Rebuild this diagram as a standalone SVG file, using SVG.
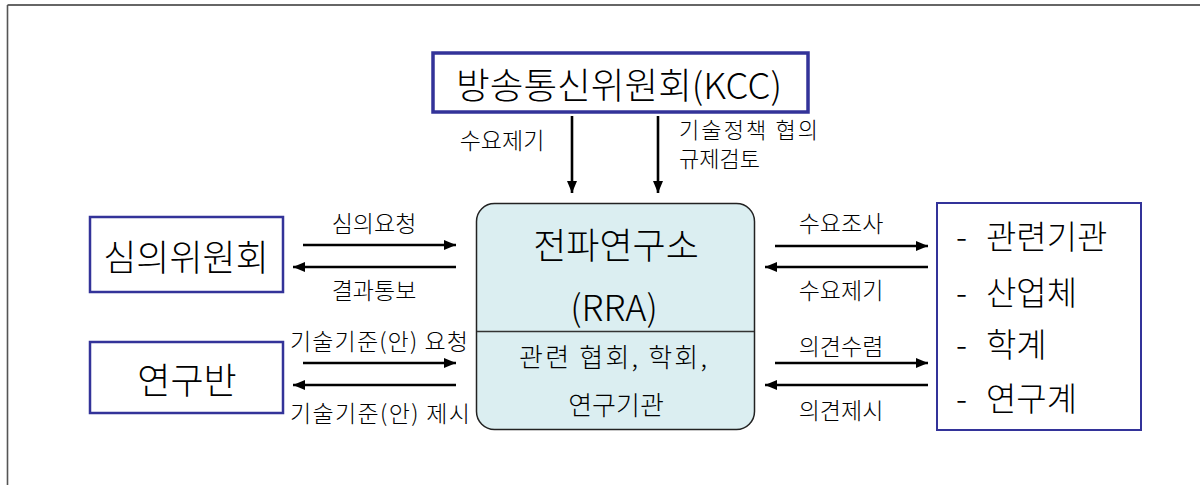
<svg xmlns="http://www.w3.org/2000/svg" width="1200" height="485" viewBox="0 0 1200 485">
<defs>
<marker id="ah" viewBox="0 0 12 10" refX="12" refY="5" markerWidth="12" markerHeight="10" markerUnits="userSpaceOnUse" orient="auto">
<path d="M0,0 L12,5 L0,10 Z" fill="#000"/>
</marker>
</defs>
<style>
text{font-family:"Noto Sans CJK KR","Noto Sans",sans-serif;fill:#000;font-weight:300}
.big{font-size:36px}
.rt{font-size:33px}
.lbl{font-size:23px}
.sm{font-size:22px}
.mid{font-size:26px}
.box{fill:#fff;stroke:#333399}
.conn line{stroke:#000;stroke-width:2.6;marker-end:url(#ah)}
</style>
<rect width="1200" height="485" fill="#fff"/>
<g id="frame">
<line x1="7.5" y1="5" x2="1200" y2="5" stroke="#333" stroke-width="1.6"/>
<line x1="7.5" y1="5" x2="7.5" y2="485" stroke="#555" stroke-width="1.6"/>
</g>
<g id="kcc">
<rect class="box" x="433" y="53" width="375" height="59" stroke-width="3.5"/>
<text class="big" x="619" y="99" text-anchor="middle" textLength="326" lengthAdjust="spacingAndGlyphs">방송통신위원회(KCC)</text>
</g>
<g id="rra">
<rect x="476.5" y="203.5" width="278" height="226" rx="18" fill="#DBEEF1" stroke="#222" stroke-width="1.5"/>
<line x1="477" y1="331.5" x2="754" y2="331.5" stroke="#333" stroke-width="1.3"/>
<text class="big" x="616" y="259" text-anchor="middle">전파연구소</text>
<text class="big" x="614" y="321" text-anchor="middle">(RRA)</text>
<text class="mid" x="613" y="367" text-anchor="middle" textLength="188" lengthAdjust="spacing">관련 협회, 학회,</text>
<text class="mid" x="616" y="415" text-anchor="middle">연구기관</text>
</g>
<g id="simui">
<rect class="box" x="90" y="217" width="193" height="75" stroke-width="2.5"/>
<text class="big" x="186" y="271" text-anchor="middle">심의위원회</text>
</g>
<g id="yeongu">
<rect class="box" x="90" y="342" width="193" height="71" stroke-width="2.5"/>
<text class="big" x="187" y="394" text-anchor="middle">연구반</text>
</g>
<g id="orgs">
<rect class="box" x="937" y="203" width="204" height="227" stroke-width="2"/>
<text class="rt" y="249"><tspan x="956">-</tspan><tspan x="986">관련기관</tspan></text>
<text class="rt" y="305"><tspan x="956">-</tspan><tspan x="986">산업체</tspan></text>
<text class="rt" y="357"><tspan x="956">-</tspan><tspan x="986">학계</tspan></text>
<text class="rt" y="411"><tspan x="956">-</tspan><tspan x="986">연구계</tspan></text>
</g>
<g class="conn" id="connectors">
<line x1="572" y1="116" x2="572" y2="193"/>
<line x1="658" y1="116" x2="658" y2="193"/>
<line x1="303" y1="245" x2="456" y2="245"/>
<line x1="456" y1="267" x2="293" y2="267"/>
<line x1="303" y1="363" x2="456" y2="363"/>
<line x1="456" y1="385" x2="293" y2="385"/>
<line x1="775" y1="246" x2="928" y2="246"/>
<line x1="928" y1="267" x2="765" y2="267"/>
<line x1="775" y1="363" x2="928" y2="363"/>
<line x1="928" y1="385" x2="765" y2="385"/>
</g>
<g id="labels">
<text class="lbl" x="502" y="149" text-anchor="middle">수요제기</text>
<text class="sm" x="679" y="138" textLength="139" lengthAdjust="spacing">기술정책 협의</text>
<text class="sm" x="679" y="167">규제검토</text>
<text class="lbl" x="374" y="232" text-anchor="middle">심의요청</text>
<text class="lbl" x="374" y="299" text-anchor="middle">결과통보</text>
<text class="lbl" x="290" y="350" textLength="178" lengthAdjust="spacing">기술기준(안) 요청</text>
<text class="lbl" x="290" y="422" textLength="180" lengthAdjust="spacing">기술기준(안) 제시</text>
<text class="lbl" x="841" y="232" text-anchor="middle">수요조사</text>
<text class="lbl" x="841" y="299" text-anchor="middle">수요제기</text>
<text class="lbl" x="841" y="355" text-anchor="middle">의견수렴</text>
<text class="lbl" x="841" y="419" text-anchor="middle">의견제시</text>
</g>
</svg>
